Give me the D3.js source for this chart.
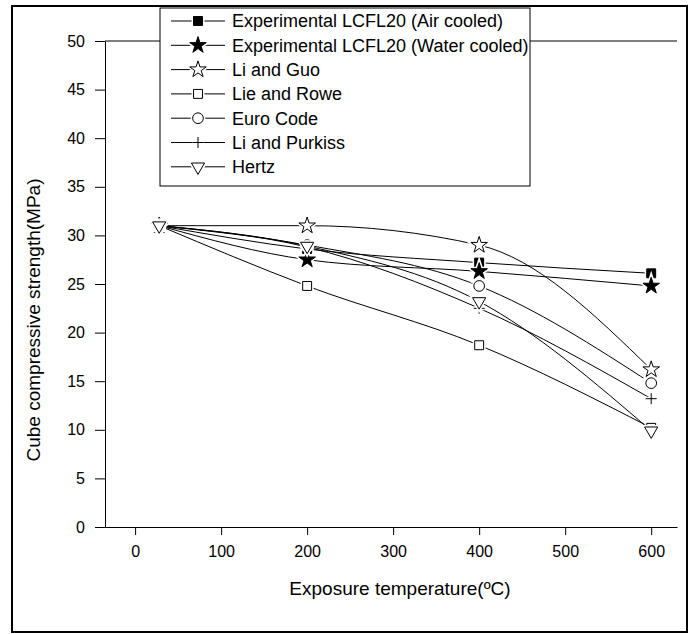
<!DOCTYPE html>
<html>
<head>
<meta charset="utf-8">
<script src="https://cdn.jsdelivr.net/npm/d3@7"></script>
<style>
  body { margin: 0; background: #fff; }
  text { font-family: "Liberation Sans", Arial, sans-serif; fill: #000; }
</style>
</head>
<body>
<svg id="chart" width="690" height="634"></svg>
<script>
// temperatures (deg C) where each series has a point
const temps = [28, 200, 400, 600];

const seriesNames = [
  'Experimental LCFL20 (Air cooled)',
  'Experimental LCFL20 (Water cooled)',
  'Li and Guo',
  'Lie and Rowe',
  'Euro Code',
  'Li and Purkiss',
  'Hertz'
];

// strength values in MPa, one array per series
const airCooled   = [31.0, 28.6, 27.2, 26.1];
const waterCooled = [31.0, 27.5, 26.3, 24.8];
const liGuo       = [31.0, 31.0, 29.0, 16.2];
const lieRowe     = [31.0, 24.8, 18.7, 10.2];
const euroCode    = [31.0, 29.0, 24.8, 14.8];
const liPurkiss   = [31.0, 28.8, 22.5, 13.2];
const hertz       = [31.0, 28.9, 23.2, 9.9];

const xTicks = [0, 100, 200, 300, 400, 500, 600];
const yTicks = [0, 5, 10, 15, 20, 25, 30, 35, 40, 45, 50];

const allValues = [airCooled, waterCooled, liGuo, lieRowe, euroCode, liPurkiss, hertz];
const markers = ['fsquare', 'fstar', 'ostar', 'osquare', 'ocircle', 'plus', 'otri'];

const width = 690, height = 634;
const margins = {left: 105, right: 13, top: 41, bottom: 107};

const vis = d3.select('#chart');

const xScale = d3.scaleLinear()
  .domain([-35, 630])
  .range([margins.left, width - margins.right]);
const yScale = d3.scaleLinear()
  .domain([0, 50])
  .range([height - margins.bottom, margins.top]);

// outer frame
vis.append('rect')
  .attr('x', 12).attr('y', 6)
  .attr('width', 675).attr('height', 626)
  .attr('fill', 'none')
  .attr('stroke', '#000')
  .attr('stroke-width', 2);

// top line at y = 50, no ticks
vis.append('line')
  .attr('x1', xScale.range()[0]).attr('x2', xScale.range()[1])
  .attr('y1', yScale(50)).attr('y2', yScale(50))
  .attr('stroke', '#000').attr('stroke-width', 1);

const xAxis = d3.axisBottom(xScale)
  .tickValues(xTicks)
  .tickSize(8)
  .tickPadding(11)
  .tickSizeOuter(0);
const yAxis = d3.axisLeft(yScale)
  .tickValues(yTicks)
  .tickSize(10)
  .tickPadding(10)
  .tickSizeOuter(0);

const gx = vis.append('g')
  .attr('transform', 'translate(0,' + yScale(0) + ')')
  .call(xAxis);
const gy = vis.append('g')
  .attr('transform', 'translate(' + margins.left + ',0)')
  .call(yAxis);

[gx, gy].forEach(g => {
  g.selectAll('path, line').attr('stroke', '#000').attr('stroke-width', 1);
  g.selectAll('text').style('font-size', '16px').style('font-family', '"Liberation Sans", Arial, sans-serif').attr('fill', '#000');
});

// axis titles
vis.append('text')
  .attr('transform', 'translate(' + 400 + ',' + 595 + ')')
  .style('text-anchor', 'middle')
  .style('font-size', '19px')
  .text('Exposure temperature(\u00baC)');

vis.append('text')
  .attr('transform', 'translate(' + 40 + ',' + 320 + ') rotate(-90)')
  .style('text-anchor', 'middle')
  .style('font-size', '19px')
  .text('Cube compressive strength(MPa)');

// marker drawing
function drawMarker(g, type, x, y) {
  const t = 'translate(' + x + ',' + y + ')';
  let d, fill = '#fff', extra = '';
  if (type === 'fsquare' || type === 'osquare') {
    d = d3.symbol(d3.symbolSquare, 80)();
    fill = type === 'fsquare' ? '#000' : '#fff';
  } else if (type === 'fstar' || type === 'ostar') {
    d = d3.symbol(d3.symbolStar, 85)();
    fill = type === 'fstar' ? '#000' : '#fff';
  } else if (type === 'ocircle') {
    d = d3.symbol(d3.symbolCircle, 90)();
  } else if (type === 'otri') {
    d = d3.symbol(d3.symbolTriangle, 75)();
    extra = ' rotate(180)';
  } else {
    d = 'M-5.5,0H5.5M0,-5.5V5.5';
    fill = 'none';
  }
  // white halo so lines break around the marker
  g.append('path')
    .attr('d', d)
    .attr('transform', t + extra)
    .attr('fill', fill === 'none' ? 'none' : '#fff')
    .attr('stroke', '#fff')
    .attr('stroke-width', 4);
  g.append('path')
    .attr('d', d)
    .attr('transform', t + extra)
    .attr('fill', fill)
    .attr('stroke', '#000')
    .attr('stroke-width', 1);
}

const lineGen = d3.line()
  .x((d, i) => xScale(temps[i]))
  .y(d => yScale(d))
  .curve(d3.curveMonotoneX);

const linesG = vis.append('g');
allValues.forEach(vals => {
  linesG.append('path')
    .attr('d', lineGen(vals))
    .attr('fill', 'none')
    .attr('stroke', '#000')
    .attr('stroke-width', 1);
});

// markers in series order, so Hertz ends up on top
const markG = vis.append('g');
allValues.forEach((vals, s) => {
  vals.forEach((v, i) => drawMarker(markG, markers[s], xScale(temps[i]), yScale(v)));
});

// legend
const legend = vis.append('g');
const lx = 160, ly = 8, rowH = 24.3;
legend.append('rect')
  .attr('x', lx).attr('y', ly)
  .attr('width', 370).attr('height', 178)
  .attr('fill', '#fff')
  .attr('stroke', '#000')
  .attr('stroke-width', 1);

seriesNames.forEach((name, i) => {
  const cy = ly + 13 + i * rowH;
  legend.append('line')
    .attr('x1', lx + 11).attr('x2', lx + 65)
    .attr('y1', cy).attr('y2', cy)
    .attr('stroke', '#000').attr('stroke-width', 1);
  drawMarker(legend, markers[i], lx + 38, cy);
  legend.append('text')
    .attr('x', lx + 72)
    .attr('y', cy)
    .attr('dy', '0.36em')
    .style('font-size', '18px')
    .text(name);
});
</script>
</body>
</html>
